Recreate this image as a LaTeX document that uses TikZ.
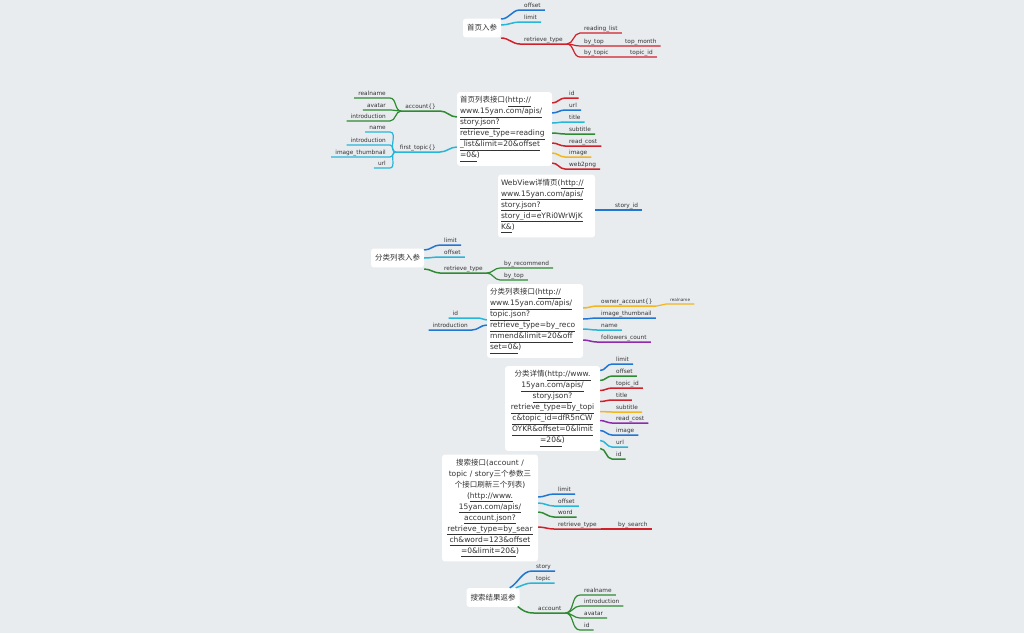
\documentclass[tikz,border=0pt]{standalone}
\usepackage{fontspec}
\setmainfont{DejaVu Sans}
\newfontfamily\cjk{Noto Sans CJK SC}
\definecolor{bg}{RGB}{233,236,239}
\definecolor{ink}{RGB}{51,51,51}
\definecolor{cblue}{RGB}{33,118,210}
\definecolor{ccyan}{RGB}{38,182,218}
\definecolor{cred}{RGB}{208,32,42}
\definecolor{cgreen}{RGB}{46,139,50}
\definecolor{cyellow}{RGB}{242,182,30}
\definecolor{cpurple}{RGB}{142,42,172}
\newcommand\lnk[1]{\underline{#1\vphantom{j}}}

\begin{document}
\begin{tikzpicture}[x=1pt,y=-1pt,
  root/.style={fill=white,rounded corners=3pt,inner xsep=4pt,inner ysep=6pt,text=ink,font=\cjk\fontsize{7.5}{9}\selectfont},
  box/.style={fill=white,rounded corners=3pt,inner xsep=3pt,inner ysep=4.5pt,text=ink,font=\fontsize{7.5}{11}\selectfont},
  lbl/.style={anchor=south west,inner xsep=4pt,inner ysep=1.5pt,text height=4.5pt,text depth=1.3pt,text=ink,font=\fontsize{5.8}{7}\selectfont},
  lbll/.style={lbl,anchor=south east},
  br/.style={draw=#1,line width=1.5pt},
  sb/.style={draw=#1,line width=1.2pt}]
\useasboundingbox (0,0) rectangle (1024,633);
\fill[bg] (0,0) rectangle (1024,633);

% home page input
\node(home) at (482,28)[root]{首页入参};
\node(homeoffset) at (520,10)[lbl]{offset};
\node(homelimit) at (520,22)[lbl]{limit};
\node(hometype) at (520,44)[lbl]{retrieve\_type};
\node(reading) at (580,33)[lbl]{reading\_list};
\node(bytop) at (580,46)[lbl]{by\_top};
\node(topmonth) at (621,46)[lbl]{top\_month};
\node(bytopic) at (580,57)[lbl]{by\_topic};
\node(topicid) at (626,57)[lbl]{topic\_id};

\draw[br=cblue] (home.east) ++(0,-9) to[out=0,in=180] (homeoffset.south west) -- (homeoffset.south east);
\draw[br=ccyan] (home.east) ++(0,-3) to[out=0,in=180] (homelimit.south west) -- (homelimit.south east);
\draw[br=cred] (home.east) ++(0,10) to[out=0,in=180] (hometype.south west) -- (hometype.south east);
\draw[sb=cred] (hometype.south east) to[out=0,in=180] (reading.south west) -- (reading.south east);
\draw[sb=cred] (hometype.south east) to[out=0,in=180] (bytop.south west) -- (topmonth.south east);
\draw[sb=cred] (hometype.south east) to[out=0,in=180] (bytopic.south west) -- (topicid.south east);

% home page list
\node(list) at (504.5,129)[box,text width=89pt,align=left]{{\cjk 首页列表接口}(\lnk{http://}\\
\lnk{www.15yan.com/apis/}\\
\lnk{story.json?}\\
\lnk{retrieve\_type=reading}\\
\lnk{\_list\&limit=20\&offset}\\
\lnk{=0\&})};
\node(account) at (440,111)[lbll]{account\{\}};
\node(realname) at (390,98)[lbll]{realname};
\node(avatar) at (390,110)[lbll]{avatar};
\node(intro) at (390,121)[lbll]{introduction};
\node(firsttopic) at (440,152)[lbll]{first\_topic\{\}};
\node(topicname) at (390,132)[lbll]{name};
\node(topicintro) at (390,145)[lbll]{introduction};
\node(thumb) at (390,157)[lbll]{image\_thumbnail};
\node(topicurl) at (390,168)[lbll]{url};
\node(lid) at (565,98)[lbl]{id};
\node(lurl) at (565,110)[lbl]{url};
\node(ltitle) at (565,122)[lbl]{title};
\node(lsubtitle) at (565,134)[lbl]{subtitle};
\node(lcost) at (565,146)[lbl]{read\_cost};
\node(limage) at (565,157)[lbl]{image};
\node(lpng) at (565,169)[lbl]{web2png};

\draw[br=cgreen] (list.west) ++(0,-12) to[out=180,in=0] (account.south east) -- (account.south west);
\draw[sb=cgreen] (account.south west) to[out=180,in=0] (realname.south east) -- (realname.south west);
\draw[sb=cgreen] (account.south west) to[out=180,in=0] (avatar.south east) -- (avatar.south west);
\draw[sb=cgreen] (account.south west) to[out=180,in=0] (intro.south east) -- (intro.south west);
\draw[br=ccyan] (list.west) ++(0,18) to[out=180,in=0] (firsttopic.south east) -- (firsttopic.south west);
\draw[sb=ccyan] (firsttopic.south west) to[out=180,in=0] (topicname.south east) -- (topicname.south west);
\draw[sb=ccyan] (firsttopic.south west) to[out=180,in=0] (topicintro.south east) -- (topicintro.south west);
\draw[sb=ccyan] (firsttopic.south west) to[out=180,in=0] (thumb.south east) -- (thumb.south west);
\draw[sb=ccyan] (firsttopic.south west) to[out=180,in=0] (topicurl.south east) -- (topicurl.south west);
\draw[br=cred] (list.east) ++(0,-26) to[out=0,in=180] (lid.south west) -- (lid.south east);
\draw[br=cblue] (list.east) ++(0,-16) to[out=0,in=180] (lurl.south west) -- (lurl.south east);
\draw[br=ccyan] (list.east) ++(0,-6) to[out=0,in=180] (ltitle.south west) -- (ltitle.south east);
\draw[br=cgreen] (list.east) ++(0,4) to[out=0,in=180] (lsubtitle.south west) -- (lsubtitle.south east);
\draw[br=cred] (list.east) ++(0,14) to[out=0,in=180] (lcost.south west) -- (lcost.south east);
\draw[br=cyellow] (list.east) ++(0,24) to[out=0,in=180] (limage.south west) -- (limage.south east);
\draw[br=cred] (list.east) ++(0,34) to[out=0,in=180] (lpng.south west) -- (lpng.south east);

% webview
\node(web) at (546.5,206)[box,text width=91pt,align=left]{WebView{\cjk 详情页}(\lnk{http://}\\
\lnk{www.15yan.com/apis/}\\
\lnk{story.json?}\\
\lnk{story\_id=eYRi0WrWjK}\\
\lnk{K\&})};
\node(storyid) at (611,210)[lbl]{story\_id};
\draw[br=cblue] (web.east) ++(0,4) to[out=0,in=180] (storyid.south west) -- (storyid.south east);

% category list input
\node(cat) at (397.5,258)[root]{分类列表入参};
\node(catlimit) at (440,245)[lbl]{limit};
\node(catoffset) at (440,257)[lbl]{offset};
\node(cattype) at (440,273)[lbl]{retrieve\_type};
\node(byrec) at (500,268)[lbl]{by\_recommend};
\node(bytoptwo) at (500,280)[lbl]{by\_top};

\draw[br=cblue] (cat.east) ++(0,-8) to[out=0,in=180] (catlimit.south west) -- (catlimit.south east);
\draw[br=ccyan] (cat.east) ++(0,0) to[out=0,in=180] (catoffset.south west) -- (catoffset.south east);
\draw[br=cgreen] (cat.east) ++(0,11) to[out=0,in=180] (cattype.south west) -- (cattype.south east);
\draw[sb=cgreen] (cattype.south east) to[out=0,in=180] (byrec.south west) -- (byrec.south east);
\draw[sb=cgreen] (cattype.south east) to[out=0,in=180] (bytoptwo.south west) -- (bytoptwo.south east);

% category list
\node(catlist) at (535,321)[box,text width=90pt,align=left]{{\cjk 分类列表接口}(\lnk{http://}\\
\lnk{www.15yan.com/apis/}\\
\lnk{topic.json?}\\
\lnk{retrieve\_type=by\_reco}\\
\lnk{mmend\&limit=20\&off}\\
\lnk{set=0\&})};
\node(cid) at (479,318)[lbll,text width=22pt]{id};
\node(cintro) at (472,330)[lbll]{introduction};
\node(owner) at (597,306)[lbl]{owner\_account\{\}};
\node(ownername) at (666,304)[lbl,font=\fontsize{4.2}{5}\selectfont]{realname};
\node(cthumb) at (597,318)[lbl]{image\_thumbnail};
\node(cname) at (597,330)[lbl]{name};
\node(followers) at (597,342)[lbl]{followers\_count};

\draw[br=ccyan] (catlist.west) ++(0,-1) to[out=180,in=0] (cid.south east) -- (cid.south west);
\draw[br=cblue] (catlist.west) ++(0,4) to[out=180,in=0] (cintro.south east) -- (cintro.south west);
\draw[br=cyellow] (catlist.east) ++(0,-13) to[out=0,in=180] (owner.south west) -- (owner.south east);
\draw[sb=cyellow] (owner.south east) to[out=0,in=180] (ownername.south west) -- (ownername.south east);
\draw[br=cblue] (catlist.east) ++(0,-2) to[out=0,in=180] (cthumb.south west) -- (cthumb.south east);
\draw[br=ccyan] (catlist.east) ++(0,8) to[out=0,in=180] (cname.south west) -- (cname.south east);
\draw[br=cpurple] (catlist.east) ++(0,19) to[out=0,in=180] (followers.south west) -- (followers.south east);

% category detail
\node(detail) at (552.5,408.5)[box,text width=89pt,align=center]{{\cjk 分类详情}(\lnk{http://www.}\\
\lnk{15yan.com/apis/}\\
\lnk{story.json?}\\
\lnk{retrieve\_type=by\_topi}\\
\lnk{c\&topic\_id=dfR5nCW}\\
\lnk{OYKR\&offset=0\&limit}\\
\lnk{=20\&})};
\node(dlimit) at (612,364)[lbl]{limit};
\node(doffset) at (612,376)[lbl]{offset};
\node(dtopicid) at (612,388)[lbl]{topic\_id};
\node(dtitle) at (612,400)[lbl]{title};
\node(dsubtitle) at (612,412)[lbl]{subtitle};
\node(dcost) at (612,423)[lbl]{read\_cost};
\node(dimage) at (612,435)[lbl]{image};
\node(durl) at (612,447)[lbl]{url};
\node(did) at (612,459)[lbl]{id};

\draw[br=cblue] (detail.east) ++(0,-38) to[out=0,in=180] (dlimit.south west) -- (dlimit.south east);
\draw[br=cgreen] (detail.east) ++(0,-28) to[out=0,in=180] (doffset.south west) -- (doffset.south east);
\draw[br=cred] (detail.east) ++(0,-18) to[out=0,in=180] (dtopicid.south west) -- (dtopicid.south east);
\draw[br=cred] (detail.east) ++(0,-7) to[out=0,in=180] (dtitle.south west) -- (dtitle.south east);
\draw[br=cyellow] (detail.east) ++(0,3) to[out=0,in=180] (dsubtitle.south west) -- (dsubtitle.south east);
\draw[br=cpurple] (detail.east) ++(0,12) to[out=0,in=180] (dcost.south west) -- (dcost.south east);
\draw[br=cblue] (detail.east) ++(0,22) to[out=0,in=180] (dimage.south west) -- (dimage.south east);
\draw[br=ccyan] (detail.east) ++(0,32) to[out=0,in=180] (durl.south west) -- (durl.south east);
\draw[br=cgreen] (detail.east) ++(0,40) to[out=0,in=180] (did.south west) -- (did.south east);

% search
\node(search) at (490,508)[box,text width=90pt,align=center]{{\cjk 搜索接口}(account~/\\
topic~/~story{\cjk 三个参数三}\\
{\cjk 个接口刷新三个列表})\\
(\lnk{http://www.}\\
\lnk{15yan.com/apis/}\\
\lnk{account.json?}\\
\lnk{retrieve\_type=by\_sear}\\
\lnk{ch\&word=123\&offset}\\
\lnk{=0\&limit=20\&})};
\node(slimit) at (554,494)[lbl]{limit};
\node(soffset) at (554,506)[lbl]{offset};
\node(sword) at (554,517)[lbl]{word};
\node(stype) at (554,529)[lbl]{retrieve\_type};
\node(bysearch) at (614,529)[lbl]{by\_search};

\draw[br=cblue] (search.east) ++(0,-11) to[out=0,in=180] (slimit.south west) -- (slimit.south east);
\draw[br=ccyan] (search.east) ++(0,-5) to[out=0,in=180] (soffset.south west) -- (soffset.south east);
\draw[br=cgreen] (search.east) ++(0,4) to[out=0,in=180] (sword.south west) -- (sword.south east);
\draw[br=cred] (search.east) ++(0,19) to[out=0,in=180] (stype.south west) -- (stype.south east);
\draw[sb=cred] (stype.south east) to[out=0,in=180] (bysearch.south west) -- (bysearch.south east);

% search result
\node(result) at (493,597.5)[root]{搜索结果返参};
\node(rstory) at (532,571)[lbl]{story};
\node(rtopic) at (532,583)[lbl]{topic};
\node(raccount) at (534,613)[lbl]{account};
\node(rrealname) at (580,595)[lbl]{realname};
\node(rintro) at (580,606)[lbl]{introduction};
\node(ravatar) at (580,618)[lbl]{avatar};
\node(rid) at (580,630)[lbl]{id};

\draw[br=cblue] (result.north east) ++(-10,0) .. controls +(8,-4) and +(-10,0) .. (rstory.south west) -- (rstory.south east);
\draw[br=ccyan] (result.north east) ++(-4,0) .. controls +(6,-2) and +(-6,0) .. (rtopic.south west) -- (rtopic.south east);
\draw[br=cgreen] (result.east) ++(-2,9) .. controls +(5,4) and +(-8,0) .. (raccount.south west) -- (raccount.south east);
\draw[sb=cgreen] (raccount.south east) to[out=0,in=180] (rrealname.south west) -- (rrealname.south east);
\draw[sb=cgreen] (raccount.south east) to[out=0,in=180] (rintro.south west) -- (rintro.south east);
\draw[sb=cgreen] (raccount.south east) to[out=0,in=180] (ravatar.south west) -- (ravatar.south east);
\draw[sb=cgreen] (raccount.south east) to[out=0,in=180] (rid.south west) -- (rid.south east);

\end{tikzpicture}
\end{document}
